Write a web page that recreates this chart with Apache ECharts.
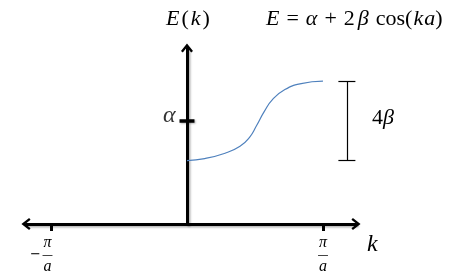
<!DOCTYPE html>
<html><head><meta charset="utf-8">
<script src="https://cdn.jsdelivr.net/npm/echarts@6/dist/echarts.min.js"></script>
<style>html,body{margin:0;padding:0;background:#fff}#c{width:449px;height:275px}</style>
</head><body><div id="c"></div>
<script>
// k in units of pi/a, E in units of beta (alpha = 0)
const kValues = [0, 0.13, 0.28, 0.39, 0.46, 0.51, 0.57, 0.63, 0.72, 0.84, 1.0];
const eValues = [-2, -1.9, -1.63, -1.28, -0.83, -0.26, 0.49, 1.08, 1.58, 1.88, 2.0];
const kTicks = [-1, 1];          // -pi/a, pi/a
const eTicks = [0];              // alpha
const bandBottom = -2, bandTop = 2;   // 4 beta span
const bracketK = 1.176;

const serif = 'Liberation Serif';
const chevron = 'path://M50 0 L100 64 L85 76 L50 32 L15 76 L0 64 Z';
const axisLineStyle = {color:'#000', width:3, shadowColor:'rgba(0,0,0,0.3)', shadowBlur:2, shadowOffsetX:1.5, shadowOffsetY:1.5};

const chart = echarts.init(document.getElementById('c'), null, {renderer:'canvas'});
const it = (size) => ({fontFamily:serif, fontStyle:'italic', fontWeight:'normal', fontSize:size, color:'#000'});
const up = (size) => ({fontFamily:serif, fontStyle:'normal', fontWeight:'normal', fontSize:size, color:'#000'});

chart.setOption({
  animation:false,
  title:[
    {text:'{i|E}{o|=}{i|α}{o|+}{n|2}{i|β}{c|cos}{u|(}{k|k}{i|a}{u|)}', left:261, top:3,
     textStyle:{...up(22), rich:{
       i:it(22), u:up(22),
       k:{...it(22), padding:[0,1,0,1]},
       o:{...up(22), padding:[0,7,0,7]},
       n:{...up(22), padding:[0,3,0,0]},
       c:{...up(22), padding:[0,0,0,7]}
     }}},
    {text:'{u|4}{i|β}', left:367, top:102,
     textStyle:{...up(22), rich:{i:it(22), u:up(22)}}}
  ],
  grid:{left:26, right:93, top:48, bottom:49.5, containLabel:false},
  xAxis:{
    type:'value', min:-1.184, max:1.243,
    axisLine:{onZero:false, symbol:[chevron, chevron], symbolSize:[12,12], lineStyle:axisLineStyle},
    axisTick:{show:true, customValues:kTicks, length:7, lineStyle:{color:'#000', width:3}},
    splitLine:{show:false},
    axisLabel:{show:true, customValues:kTicks, margin:13,
      formatter:(v)=> v < 0
        ? '{h|−}{c|π}{p| }\n{m|−}{b|—}{p| }\n{h|−}{c|a}{p| }'
        : '{c|π}\n{b|—}\n{c|a}',
      rich:{
        c:{...it(16), width:12, align:'center', lineHeight:12},
        b:{fontFamily:'DejaVu Sans', fontSize:11, color:'#000', width:12, align:'center', lineHeight:12},
        m:{fontFamily:'DejaVu Sans', fontSize:13, color:'#000', width:12, align:'center', lineHeight:12},
        h:{...up(16), color:'rgba(0,0,0,0)', width:12, align:'center', lineHeight:12},
        p:{...up(16), width:19, lineHeight:12}
      }},
    name:'k', nameLocation:'end', nameGap:11,
    nameTextStyle:{...it(24), verticalAlign:'top', padding:[9,0,0,0]}
  },
  yAxis:{
    type:'value', min:-5.2, max:3.675,
    axisLine:{onZero:true, symbol:['none', chevron], symbolSize:[12,12], lineStyle:axisLineStyle},
    axisTick:{show:false},
    splitLine:{show:false},
    axisLabel:{show:false},
    name:'{i|E}{u|(}{i|k}{u|)}', nameLocation:'end', nameGap:18,
    nameTextStyle:{...up(22), rich:{i:{...it(22), padding:[0,2,0,2]}, u:up(22)}}
  },
  series:[
    {type:'line', data:kValues.map((k,i)=>[k, eValues[i]]), smooth:true, showSymbol:false,
     lineStyle:{color:'#4f81bd', width:1.2}, z:3},
    {type:'line', data:[[-0.055, eTicks[0]], [0.055, eTicks[0]]], showSymbol:false,
     lineStyle:{color:'#000', width:3.5, shadowColor:'rgba(0,0,0,0.3)', shadowBlur:2, shadowOffsetX:1, shadowOffsetY:1}, z:4,
     markLine:{silent:true, symbol:['none','none'], label:{show:false},
       lineStyle:{type:'solid', color:'#000', width:1.2},
       data:[
         [{coord:[bracketK-0.0625, bandTop]}, {coord:[bracketK+0.0625, bandTop]}],
         [{coord:[bracketK, bandTop]}, {coord:[bracketK, bandBottom]}],
         [{coord:[bracketK-0.0625, bandBottom]}, {coord:[bracketK+0.0625, bandBottom]}]
       ]}},
    {type:'scatter', data:[[-0.055, eTicks[0]]], symbolSize:0, silent:true, z:5,
     label:{show:true, position:'left', distance:4, offset:[0,-5], formatter:'α', ...it(24)}}
  ]
});
</script></body></html>
